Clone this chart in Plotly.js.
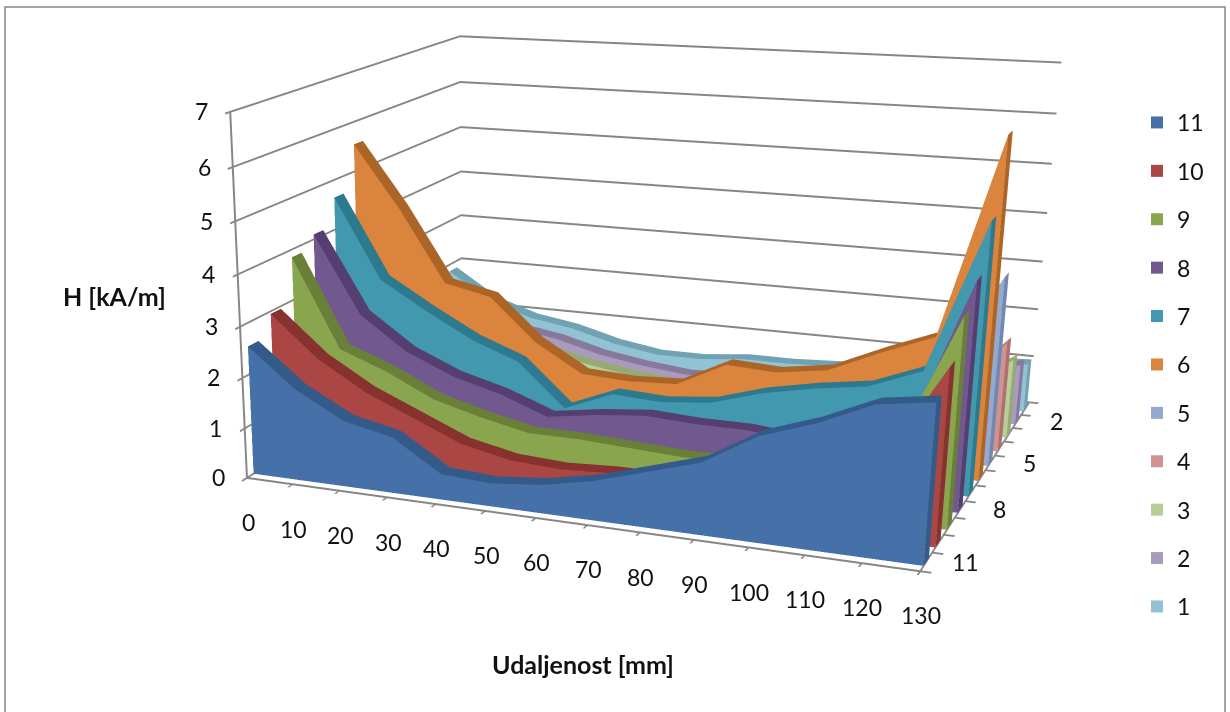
<!DOCTYPE html>
<html><head><meta charset="utf-8">
<script src="https://cdn.plot.ly/plotly-3.0.1.min.js"></script>
<style>html,body{margin:0;padding:0;background:#fff;overflow:hidden;width:1230px;height:712px}
#c{position:absolute;left:-448px;top:-312px;width:1678px;height:1790px}</style>
</head><body><div id="c"></div>
<script>
const distances=[0,10,20,30,40,50,60,70,80,90,100,110,120,130];
const s11=[2.55,1.8,1.3,1.1,.5,.45,.55,.75,1.05,1.35,1.95,2.3,2.75,2.9];
const s10=[2.95,2.15,1.6,1.2,.8,.6,.55,.6,.6,.6,.8,1.1,1.5,3.25];
const s9=[3.85,2.1,1.75,1.3,1.05,.85,.85,.8,.75,.75,.85,1.1,1.5,3.9];
const s8=[4.1,2.55,1.9,1.5,1.25,.9,1.05,1.15,1.1,1.1,1.0,1.1,1.5,4.3];
const s7=[4.65,3.05,2.5,2.0,1.65,.8,1.2,1.15,1.25,1.55,1.75,1.9,2.3,5.15];
const s6=[5.55,4.3,2.85,2.65,1.8,1.25,1.2,1.25,1.75,1.7,1.85,2.3,2.7,6.5];
const s5=[1.7,1.3,1.05,.9,.7,.5,.35,.4,.5,.6,.75,.9,1.9,3.7];
const s4=[1.6,1.25,1,.85,.65,.45,.35,.35,.45,.55,.7,.85,1.1,2.2];
const s3=[1.5,1.2,.95,.8,.6,.45,.35,.35,.4,.5,.6,.75,.95,1.6];
const s2=[1.55,1.2,.95,.8,.55,.4,.3,.35,.4,.45,.55,.7,.9,1.25];
const s1=[1.85,1.25,.95,.8,.55,.4,.4,.5,.5,.55,.6,.7,.95,1.0];
const seriesNames=[11,10,9,8,7,6,5,4,3,2,1];
const seriesValues=[s11,s10,s9,s8,s7,s6,s5,s4,s3,s2,s1];
const heightTicks=[0,1,2,3,4,5,6,7];
const depthLabels=[2,5,8,11];
const depthTicks=[0.5,1.5,2.5,3.5,4.5,5.5,6.5,7.5,8.5,9.5,10.5,11.5];
const faceColors=['#4571a8','#aa4643','#89a54e','#71588f','#4198af','#db843d','#93a9cf','#d19392','#b9cd96','#a99bbd','#92c3d4'];
const topColors=['#345a8a','#88322f','#6a8039','#553f70','#2d7a8e','#ad6527','#7088b2','#ad7170','#96aa73','#87799c','#6fa2b2'];
const halfDepth=0.22;
const FONT='Lato, Open Sans, sans-serif';
const W=1678,H=1790,OX=448,OY=312;
const px=v=>(v+OX)/W, py=v=>1-(v+OY)/H;
const ax={showbackground:false,showspikes:false,zeroline:false,title:{text:''},showticklabels:false,ticks:'outside',ticklen:8,tickcolor:'#868686',tickwidth:4,showline:true,linecolor:'#868686',linewidth:4};
const flat={ambient:1,diffuse:0,specular:0,roughness:1,fresnel:0};
const traces=[];
seriesNames.forEach((name,si)=>{
  const v=seriesValues[si],n=distances.length;
  const fx=[],fy=[],fz=[],fi=[],fj=[],fk=[];
  distances.forEach((d,p)=>{fx.push(d,d);fy.push(name+halfDepth,name+halfDepth);fz.push(0,v[p]);});
  for(let p=0;p<n-1;p++){const a=2*p;fi.push(a,a+1);fj.push(a+1,a+2);fk.push(a+2,a+3);}
  traces.push({type:'mesh3d',x:fx,y:fy,z:fz,i:fi,j:fj,k:fk,color:faceColors[si],flatshading:true,lighting:flat,hoverinfo:'skip',showlegend:false,showscale:false});
  const tx=[],ty=[],tz=[],ti=[],tj=[],tk=[];
  distances.forEach((d,p)=>{tx.push(d,d);ty.push(name+halfDepth,name-halfDepth);tz.push(v[p],v[p]);});
  for(let p=0;p<n-1;p++){const a=2*p;ti.push(a,a+1);tj.push(a+1,a+2);tk.push(a+2,a+3);}
  const L=distances[n-1],V=v[n-1],b=tx.length;
  tx.push(L,L,L,L);ty.push(name+halfDepth,name-halfDepth,name+halfDepth,name-halfDepth);tz.push(0,0,V,V);
  ti.push(b,b+1);tj.push(b+1,b+2);tk.push(b+2,b+3);
  traces.push({type:'mesh3d',x:tx,y:ty,z:tz,i:ti,j:tj,k:tk,color:topColors[si],flatshading:true,lighting:flat,hoverinfo:'skip',showlegend:false,showscale:false});
  traces.push({type:'scatter',x:[null],y:[null],mode:'markers',name:String(name),legendgroup:'g'+name,showlegend:true,marker:{symbol:'square',size:15,color:faceColors[si]},xaxis:'x',yaxis:'y'});
});
const tickAnn=(x,y,z,text,xshift,yshift)=>({x,y,z,text:String(text),showarrow:false,xshift,yshift,font:{family:FONT,size:23,color:'#111'}});
const sceneAnn=[
  ...distances.map(d=>tickAnn(d,11.45,0,d,0,-45)),
  ...heightTicks.map(h=>tickAnn(0.01,11.45,h,h,-30,0)),
  ...depthLabels.map(s=>tickAnn(129.9,s,0,s,40,0))
];
const layout={width:W,height:H,margin:{l:0,r:0,t:0,b:0},paper_bgcolor:'rgba(0,0,0,0)',
  xaxis:{visible:false,domain:[0,0.01]},yaxis:{visible:false,domain:[0,0.01]},
  showlegend:true,
  legend:{x:px(1137),y:py(101),xanchor:'left',yanchor:'top',font:{family:FONT,size:23,color:'#111'},tracegroupgap:15.5,itemsizing:'constant',traceorder:'grouped',bgcolor:'rgba(0,0,0,0)'},
  scene:{domain:{x:[0,1],y:[0,1]},annotations:sceneAnn,
    aspectmode:'manual',aspectratio:{x:1.863,y:1.507,z:1.007},
    camera:{eye:{x:1.8715,y:-5.715,z:1.44},center:{x:-0.528,y:-0.684,z:-0.782},up:{x:-0.1413,y:0.3428,z:0.9287},projection:{type:'perspective'}},
    xaxis:{...ax,range:[0,130],tickvals:distances,showgrid:false},
    yaxis:{...ax,range:[11.5,0.5],tickvals:depthTicks,showgrid:false},
    zaxis:{...ax,range:[0,7],tickvals:heightTicks,showgrid:true,gridcolor:'#868686',gridwidth:4}
  },
  annotations:[
    {xref:'paper',yref:'paper',x:px(114),y:py(296),text:'<b>H [kA/m]</b>',showarrow:false,font:{family:FONT,size:25,color:'#111'}},
    {xref:'paper',yref:'paper',x:px(583),y:py(664),text:'<b>Udaljenost [mm]</b>',showarrow:false,font:{family:FONT,size:25,color:'#111'}}
  ],
  shapes:[{type:'rect',xref:'paper',yref:'paper',x0:px(5),x1:px(1225),y0:py(760),y1:py(7),line:{color:'#868686',width:1.5},fillcolor:'rgba(0,0,0,0)'}]
};
Plotly.newPlot('c',traces,layout,{displayModeBar:false});
</script></body></html>
